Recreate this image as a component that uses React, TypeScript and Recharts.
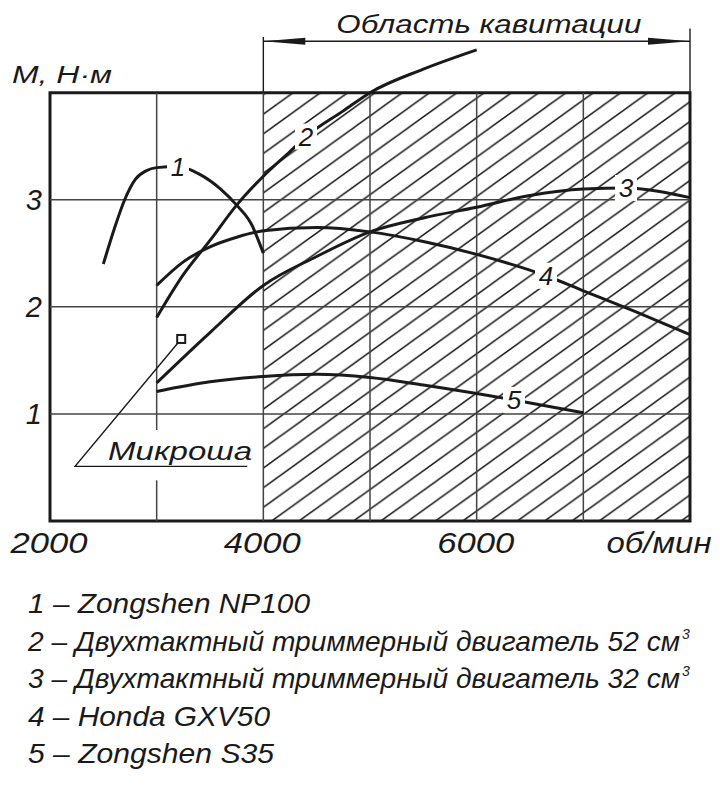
import { LineChart, Line, XAxis, YAxis, ReferenceArea, ReferenceLine, LabelList } from 'recharts'

// torque curves (rpm -> M, N·m)
const rpm1 = [2500, 2600, 2700, 2800, 2900, 3000, 3200, 3400, 3600, 3750, 3900, 3950, 4000]
const torque1 = [2.4, 2.72, 3.0, 3.19, 3.27, 3.3, 3.31, 3.24, 3.1, 2.95, 2.75, 2.63, 2.5]

const rpm2 = [3000, 3250, 3500, 3750, 4000, 4250, 4400, 4750, 5000, 5500, 6000]
const torque2 = [1.9, 2.3, 2.62, 2.95, 3.22, 3.45, 3.59, 3.83, 4.0, 4.22, 4.4]

const rpm3 = [3000, 3500, 4000, 4500, 5000, 5500, 6000, 6500, 7000, 7400, 7700, 8000]
const torque3 = [1.29, 1.76, 2.2, 2.47, 2.7, 2.83, 2.93, 3.04, 3.1, 3.11, 3.08, 3.02]

const rpm4 = [3000, 3250, 3500, 3750, 4000, 4500, 5000, 5500, 6000, 6650, 7000, 7500, 8000]
const torque4 = [2.2, 2.42, 2.56, 2.65, 2.71, 2.74, 2.7, 2.61, 2.49, 2.29, 2.15, 1.95, 1.74]

const rpm5 = [3000, 3500, 4000, 4500, 5000, 5500, 6000, 6350, 7000]
const torque5 = [1.21, 1.3, 1.35, 1.37, 1.34, 1.27, 1.19, 1.13, 1.01]

// "Микроша" point and its leader line
const rpmMicro = [3230, 2235, 3850]
const torqueMicro = [1.7, 0.51, 0.51]

const curveNames = ['1', '2', '3', '4', '5']
const labelRpm = [3200, 4400, 7400, 6650, 6350]

const xTicks = [2000, 4000, 6000, 8000]
const yTicks = [1, 2, 3]
const gridRpm = [4000, 5000, 6000, 7000]

const legendItems = [
  { text: '1 – Zongshen NP100', sup: '' },
  { text: '2 – Двухтактный триммерный двигатель 52 см', sup: '3' },
  { text: '3 – Двухтактный триммерный двигатель 32 см', sup: '3' },
  { text: '4 – Honda GXV50', sup: '' },
  { text: '5 – Zongshen S35', sup: '' },
]
const legendWidths = [282, 652, 652, 242, 246]

const toSeries = (rpm: number[], m: number[]) => rpm.map((r, i) => ({ rpm: r, m: m[i] }))
const series = [
  toSeries(rpm1, torque1),
  toSeries(rpm2, torque2),
  toSeries(rpm3, torque3),
  toSeries(rpm4, torque4),
  toSeries(rpm5, torque5),
]
const microData = toSeries(rpmMicro, torqueMicro)

const FONT = "'Liberation Sans', Arial, sans-serif"
const INK = '#1a1a1a'

const textStyle = { fontFamily: FONT, fontStyle: 'italic' as const, fill: INK }

function XTick({ x, y, payload }: any) {
  const last = payload.value === 8000
  return (
    <text
      x={last ? x - 31 : x - 1}
      y={y + 11}
      dy="0.71em"
      textAnchor="middle"
      fontSize={30}
      textLength={last ? 105 : 77}
      lengthAdjust="spacingAndGlyphs"
      style={textStyle}
    >
      {last ? 'об/мин' : payload.value}
    </text>
  )
}

function YTick({ x, y, payload }: any) {
  return (
    <text x={x} y={y} dy="0.36em" textAnchor="end" fontSize={29} style={textStyle}>
      {payload.value}
    </text>
  )
}

function curveLabel(name: string, at: number) {
  return (props: any) => {
    if (props.value !== at) return null
    const { x, y } = props
    return (
      <g>
        <rect x={x - 11} y={y - 13} width={22} height={26} fill="#fff" />
        <text x={x} y={y} dy={9} textAnchor="middle" fontSize={26} style={textStyle}>
          {name}
        </text>
      </g>
    )
  }
}

function MicroDot(props: any) {
  const { cx, cy, index } = props
  if (index !== 0) return <g key={`md${index}`} />
  return <rect key="md0" x={cx - 4} y={cy - 4} width={8} height={8} fill="#fff" stroke={INK} strokeWidth={2} />
}

function microText(props: any) {
  if (props.index !== 1) return null
  const { x, y } = props
  return (
    <text x={x + 33} y={y - 6} fontSize={25} textLength={144} lengthAdjust="spacingAndGlyphs" style={textStyle}>
      Микроша
    </text>
  )
}

function CavitationArrow(props: any) {
  const { x1, y1, x2 } = props
  const len = 42
  const hw = 3.5
  return (
    <g>
      <line x1={x1} y1={y1} x2={x2} y2={y1} stroke={INK} strokeWidth={1.4} />
      <polygon points={`${x1},${y1} ${x1 + len},${y1 - hw} ${x1 + len},${y1 + hw}`} fill={INK} />
      <polygon points={`${x2},${y1} ${x2 - len},${y1 - hw} ${x2 - len},${y1 + hw}`} fill={INK} />
      <text x={x1 + 73} y={y1 - 8} fontSize={25} textLength={305} lengthAdjust="spacingAndGlyphs" style={textStyle}>
        Область кавитации
      </text>
    </g>
  )
}

export default function App() {
  return (
    <div style={{ position: 'absolute', left: 0, top: 0, width: 720, height: 794, background: '#fff' }}>
      <svg width={0} height={0} style={{ position: 'absolute' }}>
        <defs>
          <pattern id="hatch" patternUnits="userSpaceOnUse" width={27.3} height={19.66} patternTransform="translate(0,8.9)">
            <path
              d="M-5,23.26 L32.3,-3.6 M-5,3.6 L5,-3.6 M22.3,23.26 L32.3,16.06"
              stroke={INK}
              strokeWidth={1.5}
            />
          </pattern>
        </defs>
      </svg>
      <LineChart width={720} height={570} margin={{ top: 7, right: 30, bottom: 0, left: 0 }}>
        <XAxis
          type="number"
          dataKey="rpm"
          domain={[2000, 8000]}
          ticks={xTicks}
          axisLine={false}
          tickLine={false}
          tickSize={0}
          tickMargin={0}
          height={49}
          tick={<XTick />}
          interval={0}
        />
        <YAxis
          type="number"
          domain={[0, 4.8]}
          ticks={yTicks}
          axisLine={false}
          tickLine={false}
          tickSize={0}
          tickMargin={8}
          width={50}
          tick={<YTick />}
          interval={0}
          label={{
            content: () => (
              <text x={12} y={83} fontSize={23} textLength={100} lengthAdjust="spacingAndGlyphs" style={textStyle}>
                М, Н·м
              </text>
            ),
          }}
        />
        <ReferenceArea x1={4000} x2={8000} y1={0} y2={4} fill="url(#hatch)" fillOpacity={1} stroke="none" />
        {yTicks.map((v) => (
          <ReferenceLine key={`h${v}`} y={v} stroke="#444" strokeWidth={1.5} />
        ))}
        <ReferenceLine segment={[{ x: 3000, y: 0 }, { x: 3000, y: 0.38 }]} stroke="#444" strokeWidth={1.5} />
        <ReferenceLine segment={[{ x: 3000, y: 0.85 }, { x: 3000, y: 4 }]} stroke="#444" strokeWidth={1.5} />
        {gridRpm.map((r) => (
          <ReferenceLine key={`v${r}`} segment={[{ x: r, y: 0 }, { x: r, y: 4 }]} stroke="#444" strokeWidth={1.5} />
        ))}
        <ReferenceLine segment={[{ x: 4000, y: 4 }, { x: 4000, y: 4.52 }]} stroke={INK} strokeWidth={1.4} />
        <ReferenceLine segment={[{ x: 8000, y: 4 }, { x: 8000, y: 4.6 }]} stroke={INK} strokeWidth={1.4} />
        <ReferenceLine segment={[{ x: 4000, y: 4.48 }, { x: 8000, y: 4.48 }]} shape={<CavitationArrow />} />
        <ReferenceArea x1={2000} x2={8000} y1={0} y2={4} fill="none" fillOpacity={0} stroke={INK} strokeWidth={3} />
        {series.map((data, i) => (
          <Line
            key={curveNames[i]}
            data={data}
            dataKey="m"
            type="monotone"
            stroke={INK}
            strokeWidth={3}
            dot={false}
            isAnimationActive={false}
          >
            <LabelList dataKey="rpm" content={curveLabel(curveNames[i], labelRpm[i])} />
          </Line>
        ))}
        <Line
          data={microData}
          dataKey="m"
          type="linear"
          stroke={INK}
          strokeWidth={1.4}
          dot={<MicroDot />}
          isAnimationActive={false}
        >
          <LabelList dataKey="rpm" content={microText} />
        </Line>
      </LineChart>
      <svg width={720} height={224} style={{ display: 'block' }}>
        {legendItems.map((it, i) => (
          <g key={i}>
            <text
              x={28}
              y={43 + i * 37.5}
              fontSize={28}
              textLength={legendWidths[i]}
              lengthAdjust="spacingAndGlyphs"
              style={textStyle}
            >
              {it.text}
            </text>
            {it.sup && (
              <text x={28 + legendWidths[i] + 2} y={31 + i * 37.5} fontSize={14} style={textStyle}>
                {it.sup}
              </text>
            )}
          </g>
        ))}
      </svg>
    </div>
  )
}
